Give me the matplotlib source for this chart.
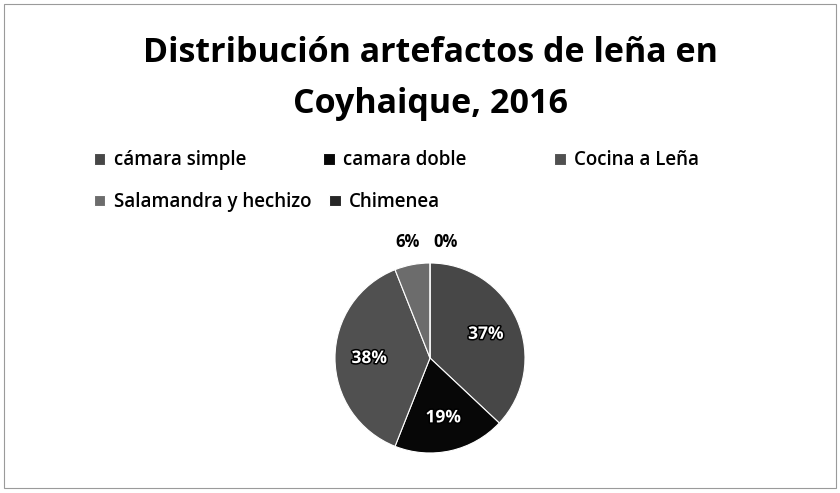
import matplotlib
matplotlib.use('Agg')
import matplotlib.pyplot as plt
import matplotlib.patheffects as pe
from matplotlib.patches import Rectangle
import numpy as np

plt.rcParams['font.family'] = ['Open Sans', 'DejaVu Sans']

# data
categories = ['cámara simple', 'camara doble', 'Cocina a Leña',
              'Salamandra y hechizo', 'Chimenea']
percents = [37, 19, 38, 6, 0]
colors = ['#474747', '#070707', '#505050', '#6c6c6c', '#262626']

fig = plt.figure(figsize=(8.4, 4.93), dpi=100)

# thin frame around the chart area
fig.patches.append(Rectangle((0.005, 0.01), 0.99, 0.982, transform=fig.transFigure,
                             fill=False, edgecolor='#9a9a9a', linewidth=0.8))

fig.text(0.512, 0.893, 'Distribución artefactos de leña en', ha='center', va='center',
         fontsize=24.5, fontweight='bold')
fig.text(0.512, 0.79, 'Coyhaique, 2016', ha='center', va='center',
         fontsize=24.5, fontweight='bold')

# pie: center (430, 358) px, radius 95 px
cx, cy, r = 430, 358, 95
ax = fig.add_axes([(cx - r) / 840, (493 - cy - r) / 493, 2 * r / 840, 2 * r / 493])
wedges, _ = ax.pie(percents, colors=colors, startangle=90, counterclock=False,
                   wedgeprops=dict(edgecolor='white', linewidth=0.8))
ax.set_xlim(-1, 1)
ax.set_ylim(-1, 1)
ax.set_aspect('equal')

# percentage labels
outline = [pe.withStroke(linewidth=2.2, foreground='black')]
for w, p in zip(wedges, percents):
    mid = np.deg2rad((w.theta1 + w.theta2) / 2)
    if p >= 10:
        ax.text(0.64 * np.cos(mid), 0.64 * np.sin(mid), f'{p}%', ha='center', va='center',
                fontsize=12.5, fontweight='bold', color='white', path_effects=outline,
                clip_on=False)

# small slices get their labels outside, above the pie
ax.text(-0.24, 1.22, f'{percents[3]}%', ha='center', va='center', fontsize=12,
        fontweight='bold', clip_on=False)
ax.text(0.16, 1.22, f'{percents[4]}%', ha='center', va='center', fontsize=12,
        fontweight='bold', clip_on=False)

# legend entries laid out like the original (3 per row)
legend_pos = [(0.112, 0.675), (0.385, 0.675), (0.660, 0.675),
              (0.112, 0.590), (0.392, 0.590)]
for w, cat, pos in zip(wedges, categories, legend_pos):
    leg = fig.legend([w], [cat], loc='center left', bbox_to_anchor=pos, frameon=False,
                     fontsize=13.5, handlelength=0.6, handleheight=0.6,
                     handletextpad=0.45, borderpad=0, borderaxespad=0)
    leg.get_texts()[0].set_fontweight('semibold')

fig.savefig('out.png', dpi=100, facecolor='white')
